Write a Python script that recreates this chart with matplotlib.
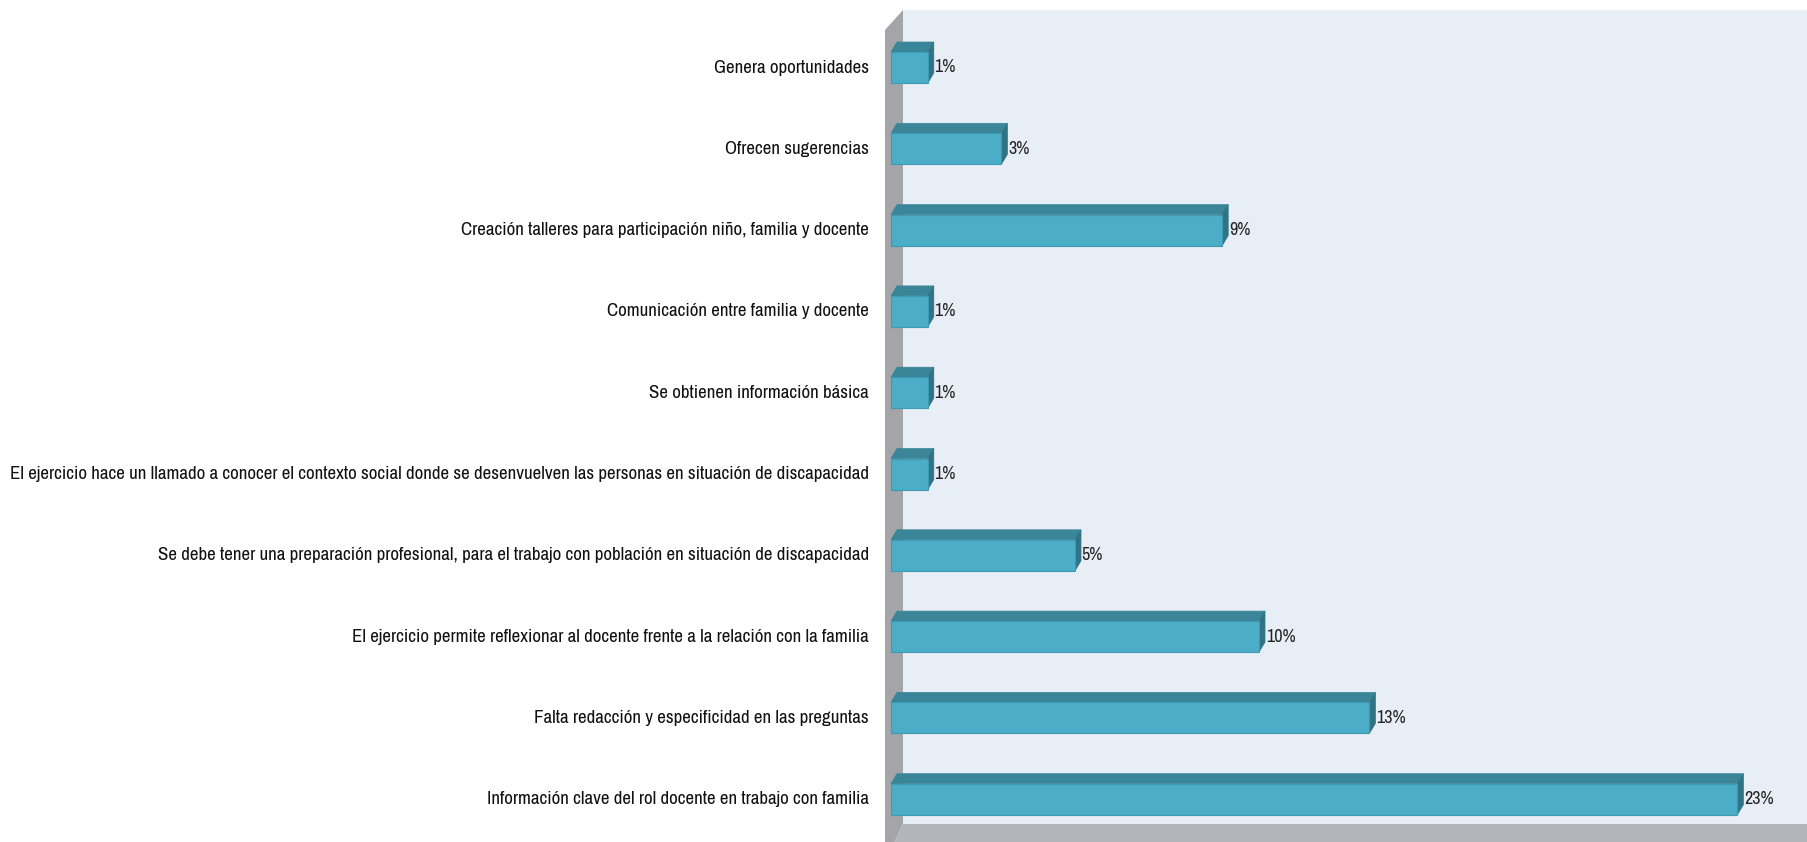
import matplotlib.pyplot as plt
from matplotlib.patches import Polygon, Rectangle

categories = [
    "Genera oportunidades",
    "Ofrecen sugerencias",
    "Creación talleres para participación niño, familia y docente",
    "Comunicación entre familia y docente",
    "Se obtienen información básica",
    "El ejercicio hace un llamado a conocer el contexto social donde se desenvuelven las personas en situación de discapacidad",
    "Se debe tener una preparación profesional, para el trabajo con población en situación de discapacidad",
    "El ejercicio permite reflexionar al docente frente a la relación con la familia",
    "Falta redacción y especificidad en las preguntas",
    "Información clave del rol docente en trabajo con familia",
]
values = [1, 3, 9, 1, 1, 1, 5, 10, 13, 23]
value_labels = ["1%", "3%", "9%", "1%", "1%", "1%", "5%", "10%", "13%", "23%"]

# narrow font with fallbacks
plt.rcParams['font.family'] = ['Archivo Narrow', 'Liberation Sans', 'DejaVu Sans']

W, H = 1807, 842
fig = plt.figure(figsize=(W / 100, H / 100), dpi=100)
ax = fig.add_axes([870 / W, 0, 1 - 870 / W, 1])

px_x = 36.8   # pixels per percent
px_y = 81.3   # pixels per category
x0_px = 891
y0_px = 67.5
ax.set_xlim(-(x0_px - 870) / px_x, (W - x0_px) / px_x)
ax.set_ylim((H - y0_px) / px_y, -y0_px / px_y)
ax.axis("off")

def px2x(p):
    return (p - x0_px) / px_x

def px2y(p):
    return (p - y0_px) / px_y

# walls
back_l, back_r = px2x(903), px2x(W)
back_t, back_b = px2y(10), px2y(824)
ax.add_patch(Rectangle((back_l, back_t), back_r - back_l, back_b - back_t,
                       facecolor="#E8EEF6", edgecolor="none", zorder=0))
side_l = px2x(885)
ax.add_patch(Polygon([(side_l, px2y(30)), (back_l, back_t), (back_l, back_b),
                      (side_l, px2y(H + 20))], closed=True,
                     facecolor="#A3A5A9", edgecolor="none", zorder=1))
ax.add_patch(Polygon([(side_l, px2y(H + 20)), (back_l, back_b), (back_r, back_b),
                      (back_r, px2y(H + 20))], closed=True,
                     facecolor="#B2B5B9", edgecolor="none", zorder=1))

# 3D bars
half = 15.5 / px_y
dx = 6 / px_x
dy = 10 / px_y
for i, (v, lab) in enumerate(zip(values, value_labels)):
    top, bot = i - half, i + half
    ax.add_patch(Polygon([(0, top), (dx, top - dy), (v + dx, top - dy), (v, top)],
                         closed=True, facecolor="#3A8598", edgecolor="#3A8598",
                         lw=0.5, zorder=3))
    ax.add_patch(Polygon([(v, top), (v + dx, top - dy), (v + dx, bot - dy), (v, bot)],
                         closed=True, facecolor="#2F7385", edgecolor="#2F7385",
                         lw=0.5, zorder=3))
    ax.add_patch(Rectangle((0, top), v, bot - top, facecolor="#4BADC7",
                           edgecolor="#3E9AB2", lw=0.8, zorder=4))
    ax.text(v + dx + 0.02, i, lab, ha="left", va="center", fontsize=13,
            color="#222222", zorder=5)
    ax.text(px2x(869), i, categories[i], ha="right", va="center", fontsize=13.6,
            color="#111111", zorder=5, clip_on=False)

fig.savefig("out.png", dpi=100)
